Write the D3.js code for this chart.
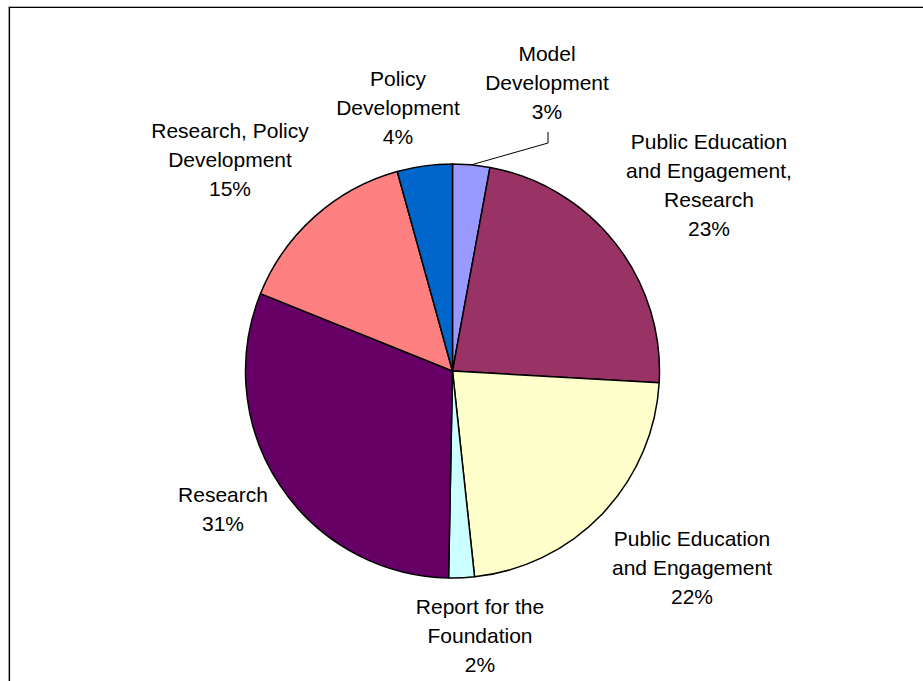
<!DOCTYPE html>
<html>
<head>
<meta charset="utf-8">
<script src="https://cdn.jsdelivr.net/npm/d3@7"></script>
<style>
  html, body { margin: 0; padding: 0; background: #fff; }
  svg { display: block; }
  text { font-family: "Liberation Sans", Arial, sans-serif; }
</style>
</head>
<body>
<svg id="chart" width="923" height="681"></svg>
<script>
// ---- data ----
const categories = [
  "Model Development",
  "Public Education and Engagement, Research",
  "Public Education and Engagement",
  "Report for the Foundation",
  "Research",
  "Research, Policy Development",
  "Policy Development"
];
const values = [2.9, 23.0, 22.4, 2.0, 30.8, 14.6, 4.3];
const labelLines = [
  ["Model", "Development"],
  ["Public Education", "and Engagement,", "Research"],
  ["Public Education", "and Engagement"],
  ["Report for the", "Foundation"],
  ["Research"],
  ["Research, Policy", "Development"],
  ["Policy", "Development"]
];
const colors = ["#9999FF", "#993366", "#FFFFCC", "#CCFFFF", "#660066", "#FF8080", "#0066CC"];

// ---- layout (label centre x, y of first line) ----
const labelLayout = [
  {x: 547, y: 54},
  {x: 709, y: 142},
  {x: 692, y: 539},
  {x: 480, y: 607},
  {x: 223, y: 495},
  {x: 230, y: 131},
  {x: 398, y: 79}
];
const lineH = 29;

const svg = d3.select("#chart");

// frame
svg.append("path").attr("d", "M8.5,681 L8.5,6.5 L923,6.5").attr("fill", "none").attr("stroke", "#b0b0b0").attr("stroke-width", 1);
svg.append("path").attr("d", "M9.5,681 L9.5,7.5 L923,7.5").attr("fill", "none").attr("stroke", "#000").attr("stroke-width", 1.2);

const cx = 452.5, cy = 371, R = 207;
const g = svg.append("g").attr("transform", `translate(${cx},${cy})`);

const total = d3.sum(values);
const pie = d3.pie().sort(null).value(d => d);
const arcs = pie(values);
const arc = d3.arc().innerRadius(0).outerRadius(R);

g.selectAll("path.slice")
  .data(arcs)
  .enter().append("path")
  .attr("class", "slice")
  .attr("d", arc)
  .attr("fill", (d, i) => colors[i])
  .attr("stroke", "#000")
  .attr("stroke-width", 1.5)
  .attr("stroke-linejoin", "round");

// labels
arcs.forEach((a, i) => {
  const lines = labelLines[i].concat([Math.round(values[i] / total * 100) + "%"]);
  const L = labelLayout[i];
  const t = svg.append("text")
    .attr("text-anchor", "middle")
    .attr("font-size", 21)
    .attr("fill", "#000");
  lines.forEach((ln, k) => {
    t.append("tspan")
      .attr("x", L.x)
      .attr("y", L.y + k * lineH)
      .attr("dy", "0.35em")
      .text(ln);
  });
});

// leader line for Model Development
{
  const a = arcs[0];
  const mid = (a.startAngle + a.endAngle) / 2;
  const px = cx + R * Math.sin(mid), py = cy - R * Math.cos(mid);
  const L = labelLayout[0];
  const lastY = L.y + (labelLines[0].length) * lineH;
  svg.append("polyline")
    .attr("points", `${px},${py} ${L.x + 1},${lastY + 31} ${L.x + 1},${lastY + 20}`)
    .attr("fill", "none")
    .attr("stroke", "#000")
    .attr("stroke-width", 1);
}
</script>
</body>
</html>
